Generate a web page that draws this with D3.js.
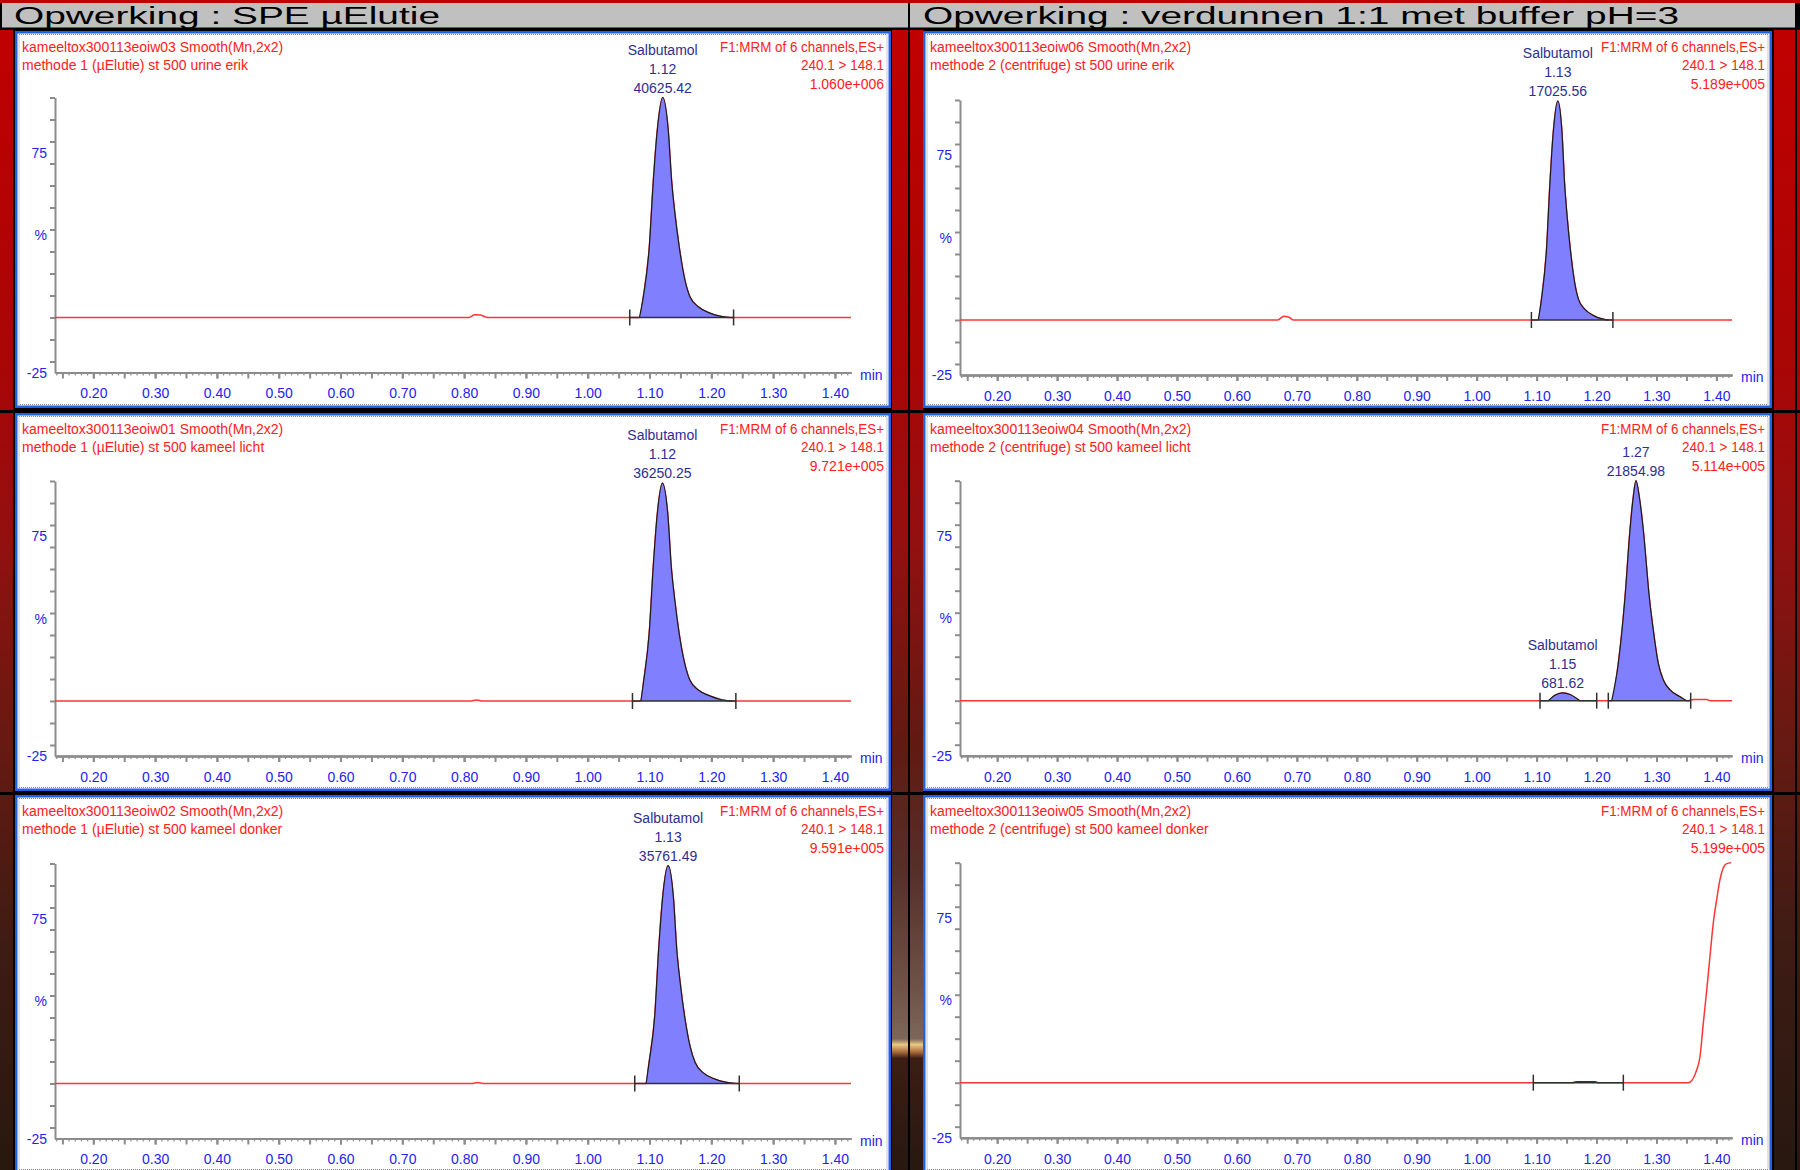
<!DOCTYPE html>
<meta charset="utf-8">

<head>
    <!-- load the d3.js library -->
    <script src="https://d3js.org/d3.v7.min.js"></script>

    <style> /* set the CSS */
    body {
        margin: 0;
        background-color: #000;
    }

    svg {
        display: block;
    }

    .title {
        font-family: "Liberation Sans", Arial, sans-serif;
        font-size: 23px;
        fill: #000;
    }

    .info {
        font-family: "Liberation Sans", Arial, sans-serif;
        font-size: 14px;
        fill: #ff2020;
    }

    .peakLabel {
        font-family: "Liberation Sans", Arial, sans-serif;
        font-size: 14px;
        fill: #2e2e8e;
        text-anchor: middle;
    }

    .axisLabel, .axis text {
        font-family: "Liberation Sans", Arial, sans-serif;
        font-size: 14px;
        fill: #2323f0;
    }

    .axis path, .axis line {
        stroke: #8c8c8c;
        stroke-width: 2px;
    }

    .minor line {
        stroke-width: 1.2px;
    }

    .trace {
        fill: none;
        stroke: #ff3535;
        stroke-width: 1.5px;
    }

    .peakFill {
        fill: #8080ff;
        stroke: none;
    }

    .peakLine {
        fill: none;
        stroke: #1a1a1a;
        stroke-width: 1.2px;
    }

    .integ {
        stroke: #303030;
        stroke-width: 1.5px;
    }
    </style>
</head>

<body>

<svg id="chart"></svg>

<script>

// chart texts
var titles = ["Opwerking : SPE µElutie", "Opwerking : verdunnen 1:1 met buffer pH=3"];
var sampleNames = ["kameeltox300113eoiw03 Smooth(Mn,2x2)", "kameeltox300113eoiw01 Smooth(Mn,2x2)",
                   "kameeltox300113eoiw02 Smooth(Mn,2x2)", "kameeltox300113eoiw06 Smooth(Mn,2x2)",
                   "kameeltox300113eoiw04 Smooth(Mn,2x2)", "kameeltox300113eoiw05 Smooth(Mn,2x2)"];
var sampleDescs = ["methode 1 (µElutie) st 500 urine erik", "methode 1 (µElutie) st 500 kameel licht",
                   "methode 1 (µElutie) st 500 kameel donker", "methode 2 (centrifuge) st 500 urine erik",
                   "methode 2 (centrifuge) st 500 kameel licht", "methode 2 (centrifuge) st 500 kameel donker"];
var channelInfo = ["F1:MRM of 6 channels,ES+", "240.1 > 148.1"];
var maxIntensity = ["1.060e+006", "9.721e+005", "9.591e+005", "5.189e+005", "5.114e+005", "5.199e+005"];

// axis ticks (time in min, intensity in %)
var timeDomain = [0.138, 1.426];
var timeLabels = [0.20, 0.30, 0.40, 0.50, 0.60, 0.70, 0.80, 0.90, 1.00, 1.10, 1.20, 1.30, 1.40];
var pctDomain = [-25, 100];
var pctTicks = [-20, -10, 0, 10, 20, 30, 40, 50, 60, 70, 80, 90, 100];
var pctLabels = [[75, "75"], [37.5, "%"], [-25, "-25"]];

// traces [time, %]
var traceL1 = [[0.138, 0], [0.808, 0], [0.817, 1.2], [0.826, 1.1], [0.834, 0.3], [0.840, 0],
    [1.0837, 0], [1.0899, 9.4], [1.0996, 32], [1.1061, 62], [1.1125, 85], [1.1213, 100],
    [1.1303, 85], [1.1358, 62], [1.1412, 47], [1.1481, 32], [1.1573, 17], [1.1654, 9.4],
    [1.1789, 4.9], [1.1978, 2], [1.2140, 0.6], [1.2302, 0], [1.426, 0]];
var traceL2 = [[0.138, 0], [0.810, 0], [0.820, 0.5], [0.830, 0],
    [1.0860, 0], [1.0905, 9], [1.0995, 31], [1.1060, 61], [1.1122, 84], [1.1208, 99],
    [1.1298, 84], [1.1352, 61], [1.1408, 46], [1.1478, 31], [1.1570, 17], [1.1652, 9.5],
    [1.1790, 5], [1.1985, 2.2], [1.2150, 0.7], [1.2330, 0], [1.426, 0]];
var traceL3 = [[0.138, 0], [0.812, 0], [0.822, 0.5], [0.832, 0],
    [1.0945, 0], [1.0990, 9], [1.1085, 31], [1.1148, 61], [1.1210, 84], [1.1300, 99],
    [1.1388, 84], [1.1440, 61], [1.1495, 46], [1.1565, 31], [1.1655, 17], [1.1738, 9.5],
    [1.1870, 4.8], [1.2060, 2], [1.2230, 0.6], [1.2400, 0], [1.426, 0]];
var traceR1 = [[0.138, 0], [0.668, 0], [0.678, 1.7], [0.686, 1.4], [0.694, 0],
    [1.1027, 0], [1.1081, 9.4], [1.1165, 32], [1.1222, 62], [1.1277, 85], [1.1354, 99.5],
    [1.1424, 85], [1.1467, 62], [1.1509, 47], [1.1563, 32], [1.1635, 17], [1.1698, 9.4],
    [1.1803, 4.9], [1.1951, 2], [1.2077, 0.6], [1.2204, 0], [1.426, 0]];
var traceR2 = [[0.138, 0], [1.1195, 0], [1.1307, 2.5], [1.1435, 3.6], [1.1557, 2.8], [1.1724, 0],
    [1.2253, 0], [1.2363, 17], [1.2475, 47], [1.2558, 77.6], [1.2613, 92.7], [1.2658, 100],
    [1.2713, 92.7], [1.2780, 77.6], [1.2880, 47], [1.2947, 32], [1.3030, 17], [1.3114, 9.4],
    [1.3226, 4.9], [1.3392, 1.8], [1.3504, 0], [1.362, 0.5], [1.384, 0.5], [1.390, 0], [1.426, 0]];
var traceR3 = [[0.138, 0], [1.160, 0], [1.168, 0.4], [1.196, 0.4], [1.203, 0],
    [1.3531, 0], [1.3671, 5.8], [1.3726, 11.8], [1.3781, 27], [1.3838, 42], [1.3893, 57.5],
    [1.3948, 72.6], [1.4005, 83.3], [1.4060, 92.4], [1.4115, 97.7], [1.4171, 99.6], [1.4243, 100]];

// integration windows [start, end] in min
var integL1 = [[1.068, 1.236]];
var integL2 = [[1.0724, 1.2397]];
var integL3 = [[1.0761, 1.2452]];
var integR1 = [[1.0913, 1.2273]];
var integR2 = [[1.1057, 1.2003], [1.2196, 1.3571]];
var integR3 = [[1.0945, 1.2447]];

// peak annotations, one list per integration window
var labelsL1 = [["Salbutamol", "1.12", "40625.42"]];
var labelsL2 = [["Salbutamol", "1.12", "36250.25"]];
var labelsL3 = [["Salbutamol", "1.13", "35761.49"]];
var labelsR1 = [["Salbutamol", "1.13", "17025.56"]];
var labelsR2 = [["Salbutamol", "1.15", "681.62"], ["1.27", "21854.98"]];
var labelsR3 = [[]];

// layout of the two columns and three rows
var colLeft = [15, 923], colRight = [891, 1772];
var colAxisX = [55, 960], colPlotRight = [851, 1732];
var rowTop = [31, 413, 795], rowBottom = [408, 791, 1173];
var zeroLine = [[317.5, 701, 1083.5], [320, 700.7, 1082.7]];

var panels = [
    {col: 0, row: 0, trace: traceL1, integ: integL1, labels: labelsL1},
    {col: 0, row: 1, trace: traceL2, integ: integL2, labels: labelsL2},
    {col: 0, row: 2, trace: traceL3, integ: integL3, labels: labelsL3},
    {col: 1, row: 0, trace: traceR1, integ: integR1, labels: labelsR1},
    {col: 1, row: 1, trace: traceR2, integ: integR2, labels: labelsR2},
    {col: 1, row: 2, trace: traceR3, integ: integR3, labels: labelsR3}
];

var width = 1800, height = 1170;

var svg = d3.select("#chart")
    .attr("width", width)
    .attr("height", height);

// gradients for the dark red side bars
var defs = svg.append("defs");
function addGradient(id, stops) {
    var grad = defs.append("linearGradient")
        .attr("id", id)
        .attr("gradientUnits", "userSpaceOnUse")
        .attr("x1", 0).attr("y1", 30)
        .attr("x2", 0).attr("y2", height);
    stops.forEach(function(s) {
        grad.append("stop").attr("offset", s[0]).attr("stop-color", s[1]);
    });
}
addGradient("bar", [[0, "#c00000"], [0.3, "#a80606"], [0.45, "#921010"],
                    [0.63, "#651a12"], [0.8, "#3e1c14"], [1, "#281810"]]);
addGradient("barMid", [[0, "#c00000"], [0.3, "#a80606"], [0.45, "#921010"], [0.63, "#601a12"],
                       [0.74, "#55302a"], [0.84, "#6e5248"], [0.885, "#7c665a"], [0.89, "#e8c884"],
                       [0.896, "#b07040"], [0.902, "#3a1e14"], [1, "#281810"]]);

// background and header
svg.append("rect").attr("width", width).attr("height", height).attr("fill", "#000");
svg.append("rect").attr("width", width).attr("height", 3).attr("fill", "#c00000");
svg.append("rect").attr("x", 2).attr("y", 3).attr("width", 1793).attr("height", 24.5).attr("fill", "#c0c0c0");
svg.append("rect").attr("x", 908).attr("y", 3).attr("width", 2).attr("height", 27).attr("fill", "#000");

svg.append("text").attr("class", "title")
    .attr("x", 14).attr("y", 24)
    .attr("textLength", 426).attr("lengthAdjust", "spacingAndGlyphs")
    .text(titles[0]);
svg.append("text").attr("class", "title")
    .attr("x", 923).attr("y", 24)
    .attr("textLength", 756).attr("lengthAdjust", "spacingAndGlyphs")
    .text(titles[1]);

// side bars
svg.append("rect").attr("x", 0).attr("y", 30).attr("width", 13).attr("height", 1140).attr("fill", "url(#bar)");
svg.append("rect").attr("x", 892).attr("y", 30).attr("width", 16).attr("height", 1140).attr("fill", "url(#barMid)");
svg.append("rect").attr("x", 910).attr("y", 30).attr("width", 13).attr("height", 1140).attr("fill", "url(#barMid)");
svg.append("rect").attr("x", 1774).attr("y", 30).attr("width", 21).attr("height", 1140).attr("fill", "url(#bar)");
svg.append("rect").attr("x", 1797).attr("y", 30).attr("width", 3).attr("height", 1140).attr("fill", "url(#bar)");

// black row separators
svg.append("rect").attr("x", 0).attr("y", 410).attr("width", width).attr("height", 3).attr("fill", "#000");
svg.append("rect").attr("x", 0).attr("y", 792).attr("width", width).attr("height", 3).attr("fill", "#000");

var minorTicks = d3.range(14, 143).map(function(i) { return i / 100; });
var halfTicks = d3.range(3, 29).map(function(i) { return i / 20; });

panels.forEach(function(p, i) {
    var left = colLeft[p.col], right = colRight[p.col];
    var top = rowTop[p.row], bottom = rowBottom[p.row];
    var g = svg.append("g");

    // panel frame
    g.append("rect")
        .attr("x", left).attr("y", top)
        .attr("width", right - left).attr("height", bottom - top)
        .attr("fill", "#fff");
    g.append("rect")
        .attr("x", left + 1.25).attr("y", top + 1.25)
        .attr("width", right - left - 2.5).attr("height", bottom - top - 2.5)
        .attr("fill", "none").attr("stroke", "#1f62e6").attr("stroke-width", 2.5);
    g.append("rect")
        .attr("x", left + 4).attr("y", top + 3.5)
        .attr("width", right - left - 8).attr("height", bottom - top - 7)
        .attr("fill", "none").attr("stroke", "#8a8a8a")
        .attr("stroke-width", 1).attr("stroke-dasharray", "1,1");

    // header texts
    g.append("text").attr("class", "info").attr("x", left + 7).attr("y", top + 20.5).text(sampleNames[i]);
    g.append("text").attr("class", "info").attr("x", left + 7).attr("y", top + 39).text(sampleDescs[i]);
    [channelInfo[0], channelInfo[1], maxIntensity[i]].forEach(function(t, k) {
        var txt = g.append("text").attr("class", "info")
            .attr("x", right - 7 - p.col * 0).attr("y", top + 20.5 + k * 18.5)
            .attr("text-anchor", "end")
            .text(t);
        if (k == 0) txt.attr("textLength", 164).attr("lengthAdjust", "spacingAndGlyphs");
        if (k == 1) txt.attr("textLength", 83).attr("lengthAdjust", "spacingAndGlyphs");
    });

    // scales
    var x = d3.scaleLinear().domain(timeDomain).range([colAxisX[p.col], colPlotRight[p.col]]);
    var y0 = zeroLine[p.col][p.row];
    var y = d3.scaleLinear().domain(pctDomain).range([y0 + 55, y0 - 220]);

    // Add the X Axis
    g.append("g")
        .attr("class", "axis minor")
        .attr("transform", "translate(0," + y(-25) + ")")
        .call(d3.axisBottom(x).tickValues(minorTicks).tickSize(3).tickSizeOuter(0).tickFormat(""));
    g.append("g")
        .attr("class", "axis")
        .attr("transform", "translate(0," + y(-25) + ")")
        .call(d3.axisBottom(x).tickValues(halfTicks).tickSize(6).tickSizeOuter(0).tickFormat(""));
    var xAxis = g.append("g")
        .attr("class", "axis")
        .attr("transform", "translate(0," + y(-25) + ")")
        .call(d3.axisBottom(x).tickValues(timeLabels).tickSize(6).tickSizeOuter(0)
            .tickPadding(10).tickFormat(d3.format(".2f")));
    xAxis.selectAll("text").attr("fill", null);

    g.append("text").attr("class", "axisLabel")
        .attr("x", colPlotRight[p.col] + 9).attr("y", y(-25) + 7)
        .text("min");

    // Add the Y Axis
    g.append("g")
        .attr("class", "axis")
        .attr("transform", "translate(" + colAxisX[p.col] + ",0)")
        .call(d3.axisLeft(y).tickValues(pctTicks).tickSize(5).tickSizeOuter(0).tickFormat(""));
    pctLabels.forEach(function(l) {
        g.append("text").attr("class", "axisLabel")
            .attr("x", colAxisX[p.col] - 8).attr("y", y(l[0]))
            .attr("dy", "0.36em")
            .attr("text-anchor", "end")
            .text(l[1]);
    });

    // the trace
    var line = d3.line()
        .x(function(d) { return x(d[0]); })
        .y(function(d) { return y(d[1]); })
        .curve(d3.curveMonotoneX);
    var area = d3.area()
        .x(function(d) { return x(d[0]); })
        .y0(y(0))
        .y1(function(d) { return y(d[1]); })
        .curve(d3.curveMonotoneX);

    g.append("path").datum(p.trace).attr("class", "trace").attr("d", line);

    // integrated peaks
    p.integ.forEach(function(w, k) {
        var part = p.trace.filter(function(d) { return d[0] >= w[0] && d[0] <= w[1]; });
        g.append("path").datum(part).attr("class", "peakFill").attr("d", area);
        g.append("path").datum(part).attr("class", "peakLine").attr("d", line);

        g.append("line").attr("class", "integ")
            .attr("x1", x(w[0])).attr("x2", x(w[1]))
            .attr("y1", y(0)).attr("y2", y(0));
        w.forEach(function(t) {
            g.append("line").attr("class", "integ")
                .attr("x1", x(t)).attr("x2", x(t))
                .attr("y1", y(0) - 8).attr("y2", y(0) + 8);
        });

        // labels above the apex
        var apex = d3.greatest(part, function(d) { return d[1]; });
        var lbl = p.labels[k] || [];
        lbl.slice().reverse().forEach(function(t, j) {
            g.append("text").attr("class", "peakLabel")
                .attr("x", x(apex[0]))
                .attr("y", y(apex[1]) - 5 - j * 19)
                .text(t);
        });
    });
});

</script>

</body>
